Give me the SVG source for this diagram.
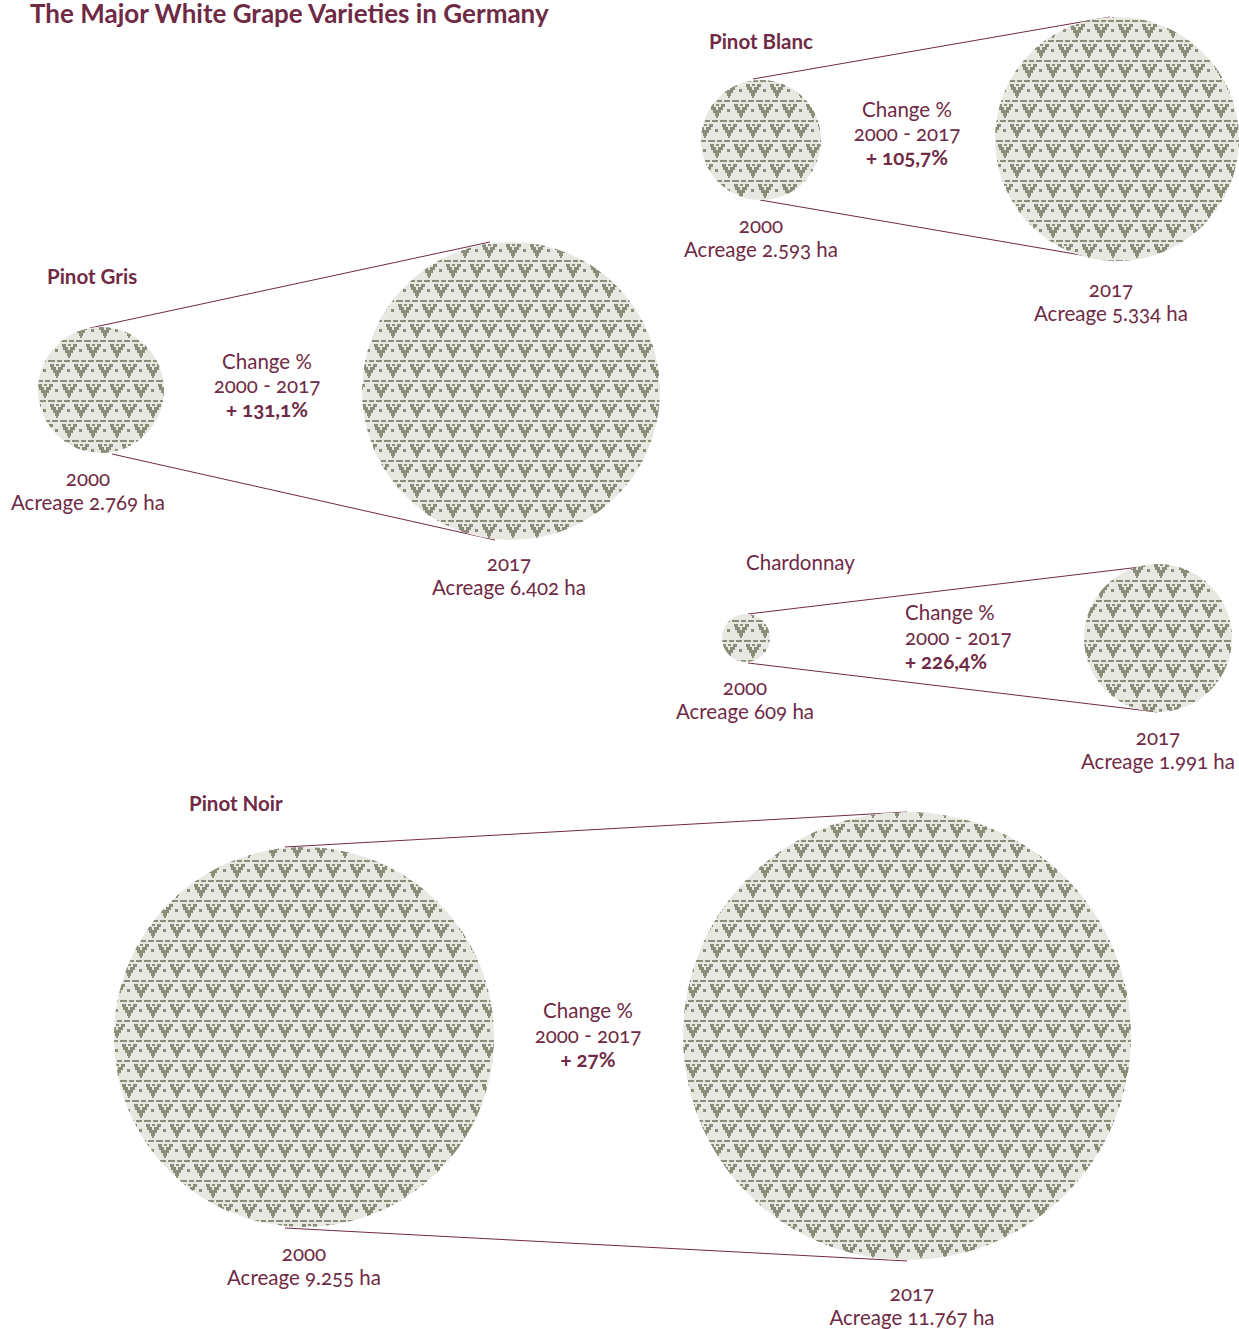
<svg xmlns="http://www.w3.org/2000/svg" width="1239" height="1329" viewBox="0 0 1239 1329">
<style>
text{font-family:Lato,"Open Sans","Liberation Sans",sans-serif;fill:#6f2a45;font-size:20.5px;font-variant-numeric:oldstyle-nums}
.c{text-anchor:middle}
.b{font-weight:bold}
.t{font-size:26px;font-weight:bold}
.h{font-size:20.5px;font-weight:bold}
.conn line{stroke:#6f2a45;stroke-width:1}
.ball{fill:url(#grape)}
</style>
<defs>
<pattern id="grape" patternUnits="userSpaceOnUse" width="24" height="40">
<rect width="24" height="40" fill="#e8e8e3"/>
<g id="motif" fill="#8b8d78">
<rect x="0" y="0" width="7" height="2"/><rect x="9" y="0" width="5" height="2"/><rect x="16" y="0" width="6" height="2"/>
<rect x="2" y="4" width="4" height="3"/><rect x="8" y="4" width="3" height="2"/><rect x="13" y="4" width="4" height="3"/>
<rect x="3" y="7" width="5" height="3"/><rect x="10" y="7" width="5" height="3"/>
<rect x="5" y="10" width="8" height="3"/>
<rect x="7" y="13" width="4" height="3"/><rect x="8" y="16" width="2" height="2"/>
<rect x="19" y="9" width="3" height="3"/>
</g>
<use href="#motif" x="12" y="20"/>
<use href="#motif" x="-12" y="20"/>
</pattern>
</defs>
<text class="t" x="30" y="23">The Major White Grape Varieties in Germany</text>
<g id="connectors" class="conn">
<line x1="753" y1="79" x2="1110" y2="17"/>
<line x1="760" y1="200" x2="1110" y2="260"/>
<line x1="90" y1="328" x2="490" y2="242"/>
<line x1="112" y1="454" x2="495" y2="540"/>
<line x1="748" y1="614" x2="1157" y2="565"/>
<line x1="748" y1="663" x2="1157" y2="712"/>
<line x1="285" y1="847" x2="907" y2="812"/>
<line x1="285" y1="1228" x2="907" y2="1261"/>
</g>
<g id="pinot-blanc">
<text class="h" x="709" y="49">Pinot Blanc</text>
<circle class="ball" cx="761" cy="140" r="60"/>
<circle class="ball" cx="1117" cy="139" r="122"/>
<text class="c" x="907" y="117">Change %</text>
<text class="c" x="907" y="141">2000 - 2017</text>
<text class="c b" x="907" y="165">+ 105,7%</text>
<text class="c" x="761" y="233">2000</text>
<text class="c" x="761" y="257">Acreage 2.593 ha</text>
<text class="c" x="1111" y="297">2017</text>
<text class="c" x="1111" y="321">Acreage 5.334 ha</text>
</g>
<g id="pinot-gris">
<text class="h" x="47" y="284">Pinot Gris</text>
<circle class="ball" cx="101" cy="390" r="63"/>
<circle class="ball" cx="511" cy="391" r="149"/>
<text class="c" x="267" y="369">Change %</text>
<text class="c" x="267" y="393">2000 - 2017</text>
<text class="c b" x="267" y="417">+ 131,1%</text>
<text class="c" x="88" y="486">2000</text>
<text class="c" x="88" y="510">Acreage 2.769 ha</text>
<text class="c" x="509" y="571">2017</text>
<text class="c" x="509" y="595">Acreage 6.402 ha</text>
</g>
<g id="chardonnay">
<text x="746" y="570">Chardonnay</text>
<circle class="ball" cx="746" cy="638" r="24"/>
<circle class="ball" cx="1158" cy="638" r="74"/>
<text x="905" y="620">Change %</text>
<text x="905" y="645">2000 - 2017</text>
<text class="b" x="905" y="669">+ 226,4%</text>
<text class="c" x="745" y="695">2000</text>
<text class="c" x="745" y="719">Acreage 609 ha</text>
<text class="c" x="1158" y="745">2017</text>
<text class="c" x="1158" y="769">Acreage 1.991 ha</text>
</g>
<g id="pinot-noir">
<text class="h" x="189" y="811">Pinot Noir</text>
<circle class="ball" cx="304" cy="1037" r="190"/>
<circle class="ball" cx="907" cy="1036" r="224"/>
<text class="c" x="588" y="1018">Change %</text>
<text class="c" x="588" y="1043">2000 - 2017</text>
<text class="c b" x="588" y="1067">+ 27%</text>
<text class="c" x="304" y="1261">2000</text>
<text class="c" x="304" y="1285">Acreage 9.255 ha</text>
<text class="c" x="912" y="1301">2017</text>
<text class="c" x="912" y="1325">Acreage 11.767 ha</text>
</g>
</svg>
